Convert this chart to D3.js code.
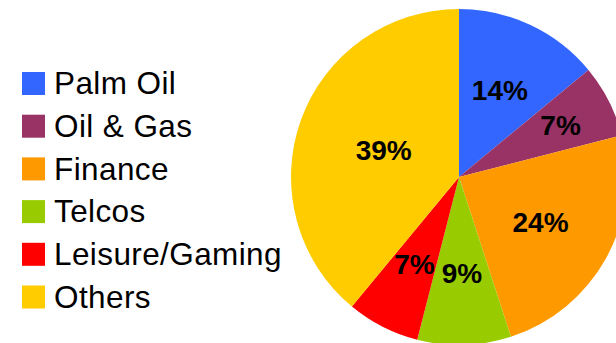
<!DOCTYPE html>
<html>
<head>
<meta charset="utf-8">
<script src="https://cdn.jsdelivr.net/npm/d3@7/dist/d3.min.js"></script>
<style>
  html, body { margin: 0; padding: 0; background: #fff; overflow: hidden; }
  svg { display: block; }
</style>
</head>
<body>
<script>
// Sector weights (% of portfolio)
const categories = ["Palm Oil", "Oil & Gas", "Finance", "Telcos", "Leisure/Gaming", "Others"];
const shares = [14, 7, 24, 9, 7, 39];
const colors = ["#3366FF", "#993366", "#FF9900", "#99CC00", "#FF0000", "#FFCC00"];

const W = 616, H = 343;
const cx = 459, cy = 177, R = 168;

// Radius at which each percentage label sits
const labelRadius = { "Palm Oil": 96, "Oil & Gas": 114, "Finance": 93, "Telcos": 96, "Leisure/Gaming": 98, "Others": 80 };

const svg = d3.select("body").append("svg")
  .attr("width", W).attr("height", H);

const data = categories.map((c, i) => ({ name: c, value: shares[i], color: colors[i] }));

const pie = d3.pie().value(d => d.value).sort(null);
const arcs = pie(data);
const arc = d3.arc().innerRadius(0).outerRadius(R);

const g = svg.append("g").attr("transform", `translate(${cx},${cy})`);

g.selectAll("path.slice")
  .data(arcs)
  .join("path")
  .attr("class", "slice")
  .attr("d", arc)
  .attr("fill", d => d.data.color);

g.selectAll("text.pct")
  .data(arcs)
  .join("text")
  .attr("class", "pct")
  .attr("transform", d => {
    const r = labelRadius[d.data.name];
    const c = d3.arc().innerRadius(r).outerRadius(r).centroid(d);
    return `translate(${c[0]},${c[1]})`;
  })
  .attr("text-anchor", "middle")
  .attr("dy", "0.36em")
  .attr("font-family", "'Liberation Sans', Arial, sans-serif")
  .attr("font-weight", "bold")
  .attr("font-size", 28)
  .attr("fill", "#000")
  .text(d => d3.format(".0%")(d.data.value / 100));

// Legend
const legendX = 22, legendY0 = 72, rowStep = 42.7, box = 23;
const legend = svg.append("g");
const rows = legend.selectAll("g.row")
  .data(data)
  .join("g")
  .attr("class", "row")
  .attr("transform", (d, i) => `translate(${legendX},${legendY0 + i * rowStep})`);

rows.append("rect")
  .attr("width", box).attr("height", box)
  .attr("fill", d => d.color);

rows.append("text")
  .attr("x", 32)
  .attr("y", 22.3)
  .attr("font-family", "'Liberation Sans', Arial, sans-serif")
  .attr("font-size", 31.5)
  .attr("letter-spacing", 0.4)
  .attr("fill", "#000")
  .text(d => d.name);
</script>
</body>
</html>
